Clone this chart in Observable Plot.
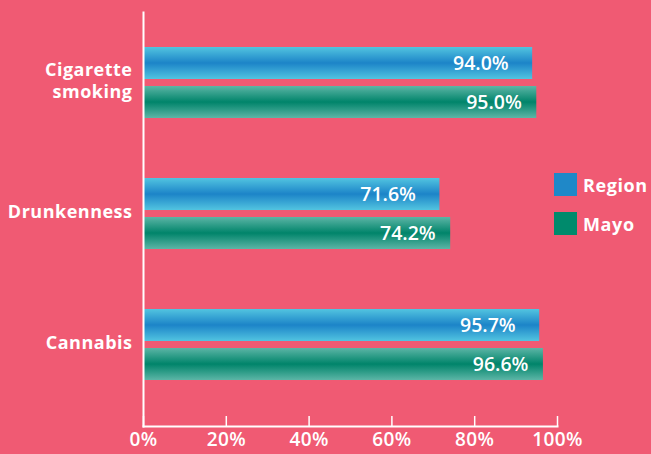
<!DOCTYPE html>
<html>
<head>
<meta charset="utf-8">
<script src="https://cdn.jsdelivr.net/npm/d3@7"></script>
<script src="https://cdn.jsdelivr.net/npm/@observablehq/plot@0.6"></script>
<style>
  html, body { margin: 0; padding: 0; background: #F05A73; }
  #wrap { position: relative; width: 651px; height: 454px; overflow: hidden; font-family: "Open Sans", sans-serif; }
  #legend { position: absolute; left: 554px; top: 173px; color: #fff; font-weight: 700; font-size: 18px; letter-spacing: 0.6px; }
  .item { display: flex; align-items: center; height: 23px; margin-bottom: 16px; }
  .sw { width: 23px; height: 23px; margin-right: 6px; }
</style>
</head>
<body>
<div id="wrap"><div id="chart"></div><div id="legend"></div></div>
<script>
const categories = ["Cigarette smoking", "Drunkenness", "Cannabis"];
const categoryLabels = ["Cigarette\nsmoking", "Drunkenness", "Cannabis"];
const seriesNames = ["Region", "Mayo"];
const regionValues = [94.0, 71.6, 95.7];
const mayoValues = [95.0, 74.2, 96.6];
const xTicks = [0, 20, 40, 60, 80, 100];
const swatchColors = ["#1f88c8", "#008a6c"];

const regionRows = categories.map((c, i) => ({category: c, value: regionValues[i]}));
const mayoRows = categories.map((c, i) => ({category: c, value: mayoValues[i]}));
const labelOf = Object.fromEntries(categories.map((c, i) => [c, categoryLabels[i]]));

const font = "Open Sans, sans-serif";
const plot = Plot.plot({
  width: 651,
  height: 454,
  marginTop: 12,
  marginBottom: 28,
  marginLeft: 143,
  marginRight: 94,
  style: {background: "transparent", color: "#fff", fontFamily: font},
  x: {domain: [0, 100]},
  y: {domain: categories, paddingInner: 0.46, paddingOuter: 0.304, align: 0.425, label: null},
  marks: [
    Plot.barX(regionRows, {y: "category", x: "value", fill: "url(#gRegion)", insetTop: 0, insetBottom: 39}),
    Plot.barX(mayoRows, {y: "category", x: "value", fill: "url(#gMayo)", insetTop: 39, insetBottom: 0}),
    Plot.text(regionRows, {y: "category", x: "value", text: d => d.value.toFixed(1) + "%", dy: -19.5, dx: -24, textAnchor: "end", fill: "#fff", fontSize: 19.5, fontWeight: 600, style: "letter-spacing:0.8px"}),
    Plot.text(mayoRows, {y: "category", x: "value", text: d => d.value.toFixed(1) + "%", dy: 20, dx: -15, textAnchor: "end", fill: "#fff", fontSize: 19.5, fontWeight: 600, style: "letter-spacing:0.8px"}),
    Plot.frame({anchor: "left", stroke: "#fff", strokeWidth: 2}),
    Plot.frame({anchor: "bottom", stroke: "#fff", strokeWidth: 2}),
    Plot.axisX({ticks: xTicks, tickFormat: d => d + "%", tickSize: -10, tickPadding: 16, fontSize: 19, fontWeight: 600, label: null, stroke: "#fff", strokeWidth: 1.5}),
    Plot.axisY({tickSize: 0, tickPadding: 11, fontSize: 18, fontWeight: 700, tickFormat: d => labelOf[d], lineHeight: 1.25, label: null, dy: -3})
  ]
});

const svg = d3.select(plot);
svg.selectAll("[aria-label='y-axis tick label'] text").style("letter-spacing", "0.5px");
svg.selectAll("[aria-label='x-axis tick label'] text").style("letter-spacing", "0.4px");
const defs = svg.insert("defs", ":first-child");
function grad(id, edge, mid) {
  const g = defs.append("linearGradient").attr("id", id).attr("x1", 0).attr("y1", 0).attr("x2", 0).attr("y2", 1);
  g.append("stop").attr("offset", "0%").attr("stop-color", edge);
  g.append("stop").attr("offset", "50%").attr("stop-color", mid);
  g.append("stop").attr("offset", "100%").attr("stop-color", edge);
}
grad("gRegion", "#52c4e0", "#1c84c8");
grad("gMayo", "#5cb5a6", "#00846a");

document.getElementById("chart").appendChild(plot);

const legend = d3.select("#legend");
seriesNames.forEach((s, i) => {
  const it = legend.append("div").attr("class", "item");
  it.append("div").attr("class", "sw").style("background", swatchColors[i]);
  it.append("span").text(s);
});
</script>
</body>
</html>
